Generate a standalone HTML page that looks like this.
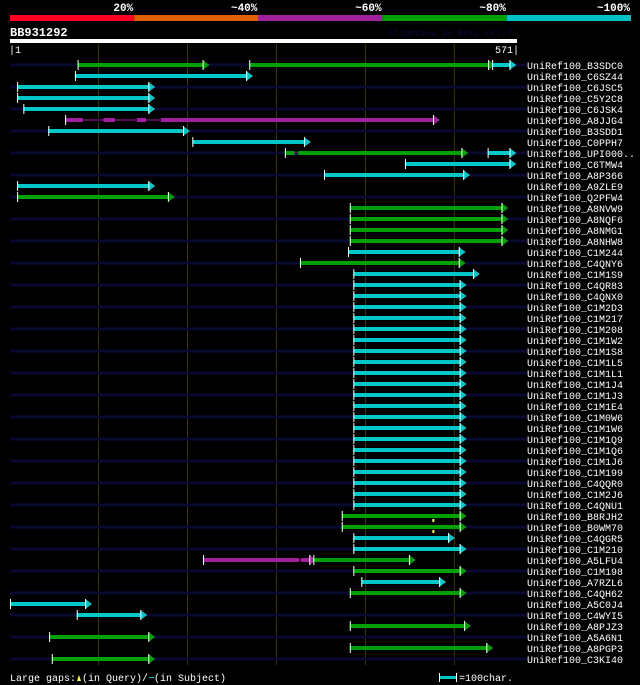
<!DOCTYPE html>
<html><head><meta charset="utf-8"><style>
html,body{margin:0;padding:0;background:#000;}
svg{display:block;}
text{font-family:"Liberation Mono","DejaVu Sans Mono",monospace;}
</style></head><body>
<svg id="chart" width="640" height="685" viewBox="0 0 640 685" xmlns="http://www.w3.org/2000/svg">
<rect width="640" height="685" fill="#000"/>
<g id="hdr"></g>
<g id="grid"></g>
<g id="rows"></g>
<g id="bars"></g>
<g id="labels"></g>
</svg>
<script>
const queryLength = 571;
const gridTicks = [100,200,300,400,500];
const identityBands = ["20%","~40%","~60%","~80%","~100%"];
const bandColors = ["#ff0020","#e06000","#a020a0","#00a000","#00c0c8"];
const rowLabels = ["B3SDC0","C6SZ44","C6JSC5","C5Y2C8","C6JSK4","A8JJG4","B3SDD1","C0PPH7","UPI000..","C6TMW4","A8P366","A9ZLE9","Q2PFW4","A8NVW9","A8NQF6","A8NMG1","A8NHW8","C1M244","C4QNY6","C1M1S9","C4QR83","C4QNX0","C1M2D3","C1M217","C1M208","C1M1W2","C1M1S8","C1M1L5","C1M1L1","C1M1J4","C1M1J3","C1M1E4","C1M0W6","C1M1W6","C1M1Q9","C1M1Q6","C1M1J6","C1M199","C4QQR0","C1M2J6","C4QNU1","B8RJH2","B0WM70","C4QGR5","C1M210","A5LFU4","C1M198","A7RZL6","C4QH62","A5C0J4","C4WYI5","A8PJZ3","A5A6N1","A8PGP3","C3KI40"];
const hitRow   = [0,0,0,1,2,3,4,5,6,7,8,8,9,10,11,12,13,14,15,16,17,18,19,20,21,22,23,24,25,26,27,28,29,30,31,32,33,34,35,36,37,38,39,40,41,42,43,44,45,45,46,47,48,49,50,51,52,53,54];
const hitStart = [77,270,543,74,9,9,16,63,44,206,310,538,445,354,9,9,383,383,383,383,381,327,387,387,387,387,387,387,387,387,387,387,387,387,387,387,387,387,387,387,387,387,387,387,374,374,387,387,218,342,387,396,383,1,76,383,45,383,48];
const hitEnd   = [222,543,567,271,161,161,161,481,200,336,513,567,567,515,161,183,558,558,558,558,510,510,526,511,511,511,511,511,511,511,511,511,511,511,511,511,511,511,511,511,511,511,511,511,511,511,498,511,342,454,511,488,511,90,152,516,161,541,161];
const hitColor = ["g","g","c","c","c","c","c","m","c","c","g","c","c","c","c","g","g","g","g","g","c","g","c","c","c","c","c","c","c","c","c","c","c","c","c","c","c","c","c","c","c","c","c","c","g","g","c","c","m","g","g","c","g","c","c","g","g","g","g"];
const gapRow   = [5,5,5,8,45];
const gapStart = [83,119,154,321,326];
const gapEnd   = [106,144,171,325,328];
const qgapRow = [41,42];
const qgapPos = [477,477];

const NS="http://www.w3.org/2000/svg";
const colMap={g:"#00a000",c:"#00c8c8",m:"#a020a0"};
const X0=10,X1=517,ROW0=65,ROWH=11;
function xs(u){return X0+(u-1)*(X1-X0)/(queryLength-1);}
function ys(r){return ROW0+r*ROWH;}
function mk(tag,attrs,parent,text){const e=document.createElementNS(NS,tag);for(const k in attrs)e.setAttribute(k,attrs[k]);if(text!==undefined)e.textContent=text;parent.appendChild(e);return e;}

const hdr=document.getElementById('hdr');
const bw=(631-10)/identityBands.length;
identityBands.forEach((b,i)=>{
  const r=mk('rect',{x:10+i*bw,y:15,width:bw,height:6,fill:bandColors[i]},hdr);
  
  
  const t=mk('text',{x:10+(i+1)*bw-1,y:11,'text-anchor':'end','font-size':'11','font-weight':'bold',fill:'#fff'},hdr,b);
  
  
});
let t=mk('text',{x:10,y:36,'font-size':'12','font-weight':'bold',fill:'#fff'},hdr,"BB931292");


t=mk('text',{x:512,y:36,'text-anchor':'end','font-size':'9','font-weight':'bold',fill:'#06062a'},hdr,"AlignView.pm Beta rel.7");


let r=mk('rect',{x:10,y:39,width:X1-10,height:4,fill:'#fff'},hdr);


t=mk('text',{x:9,y:53,'font-size':'10',fill:'#fff'},hdr,"|1");


t=mk('text',{x:519,y:53,'text-anchor':'end','font-size':'10',fill:'#fff'},hdr,"571|");



const grid=document.getElementById('grid');
gridTicks.forEach(v=>{
  const l=mk('line',{x1:xs(v)+0.5,x2:xs(v)+0.5,y1:44,y2:665,stroke:'#3a3a08','stroke-width':1},grid);
  
  
});

const rows=document.getElementById('rows'),labels=document.getElementById('labels');
rowLabels.forEach((lab,i)=>{
  if(i%2===0){
    const b=mk('rect',{x:10,y:ys(i)-1.5,width:517,height:3,fill:'#080830'},rows);
    
    
  }
  const tx=mk('text',{x:527,y:ys(i)+4,'font-size':'10',fill:'#fff'},labels,"UniRef100_"+lab);
  
  
});

const bars=document.getElementById('bars');
hitRow.forEach((row,i)=>{
  const y=ys(row),x1=xs(hitStart[i]),x2=xs(hitEnd[i]),c=colMap[hitColor[i]];
  const g=mk('g',{},bars);
  
  
  mk('rect',{x:x1,y:y-2,width:Math.max(1,x2-x1),height:4,fill:c},g);
  mk('polygon',{points:`${x2-4},${y-5} ${x2+3},${y} ${x2-4},${y+5}`,fill:c},g);
  mk('line',{x1:x2-3.5,x2:x2-3.5,y1:y-5,y2:y+5,stroke:'#fff','stroke-width':1},g);
  mk('line',{x1:x1+0.5,x2:x1+0.5,y1:y-5,y2:y+5,stroke:'#fff','stroke-width':1},g);
});
gapRow.forEach((row,i)=>{
  const y=ys(row),x1=xs(gapStart[i]),x2=xs(gapEnd[i]);
  const g=mk('g',{},bars);
  
  
  mk('rect',{x:x1,y:y-2,width:x2-x1,height:4,fill:row%2===0?'#080830':'#000'},g);
  mk('rect',{x:x1,y:y-0.5,width:x2-x1,height:1,fill:'#a020a0'},g);
});
qgapRow.forEach((row,i)=>{
  const y=ys(row),x=xs(qgapPos[i]);
  const m=mk('rect',{x:x-1,y:y+3,width:2,height:3,fill:'#ffff60'},bars);
  
  
});

const svg=document.getElementById('chart');
const ft=mk('text',{x:10,y:681,'font-size':'10',fill:'#fff'},svg,"Large gaps: (in Query)/  (in Subject)");


const fd=mk('rect',{x:149,y:677,width:5,height:1,fill:'#00c8c8'},svg);


const fm=mk('polygon',{points:'77,681 79,675 81,681',fill:'#ffff60'},svg);


const lg=mk('g',{},svg);


mk('rect',{x:439,y:676,width:18,height:3,fill:'#00c8c8'},lg);
mk('line',{x1:439.5,x2:439.5,y1:673,y2:682,stroke:'#fff'},lg);
mk('line',{x1:456.5,x2:456.5,y1:673,y2:682,stroke:'#fff'},lg);
mk('text',{x:459,y:681,'font-size':'10',fill:'#fff'},lg,"=100char.");
</script>
</body></html>
